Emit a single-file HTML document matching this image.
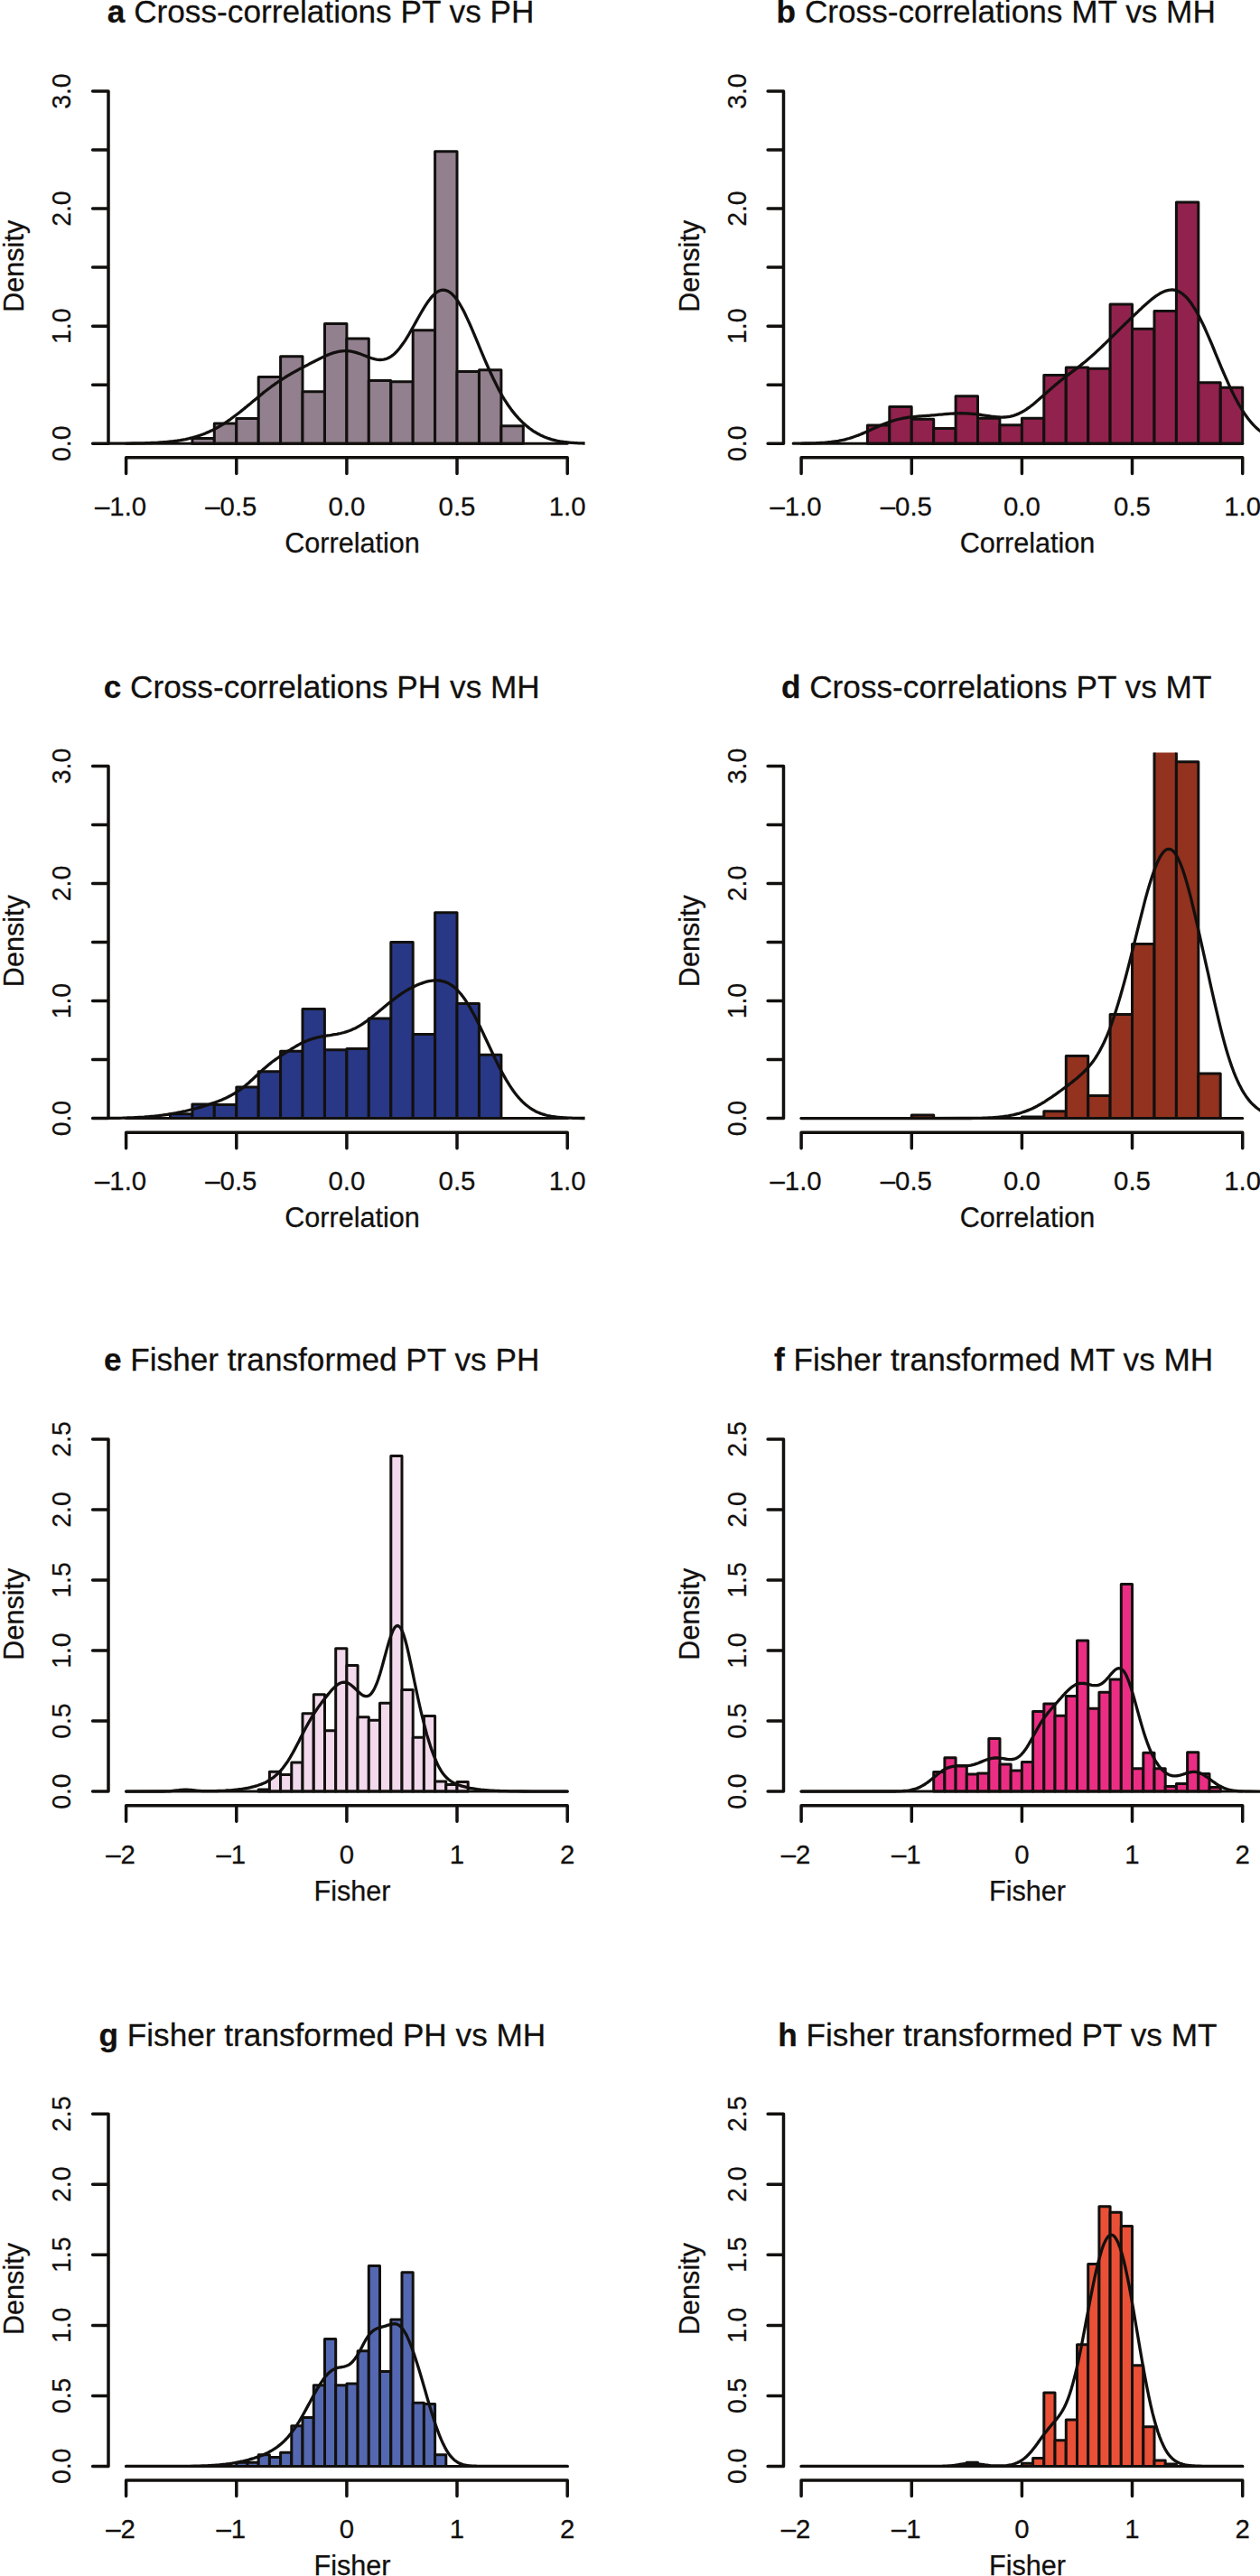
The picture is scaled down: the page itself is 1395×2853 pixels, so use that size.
<!DOCTYPE html>
<html lang="en"><head><meta charset="utf-8"><title>Cross-correlation and Fisher transformed histograms</title>
<style>html,body{margin:0;padding:0;background:#fff}body{width:1395px;height:2853px;overflow:hidden}svg{display:block}text{font-family:"Liberation Sans",Arial,Helvetica,sans-serif;fill:#12100e;stroke:#12100e;stroke-width:0.25px;stroke-linejoin:round}.ax{stroke:#12100e;stroke-width:3.5;fill:none;stroke-linecap:round;stroke-linejoin:round}.bar{stroke:#12100e;stroke-width:3.0;stroke-linejoin:round;stroke-linecap:round}.cur{stroke:#12100e;stroke-width:3.3;fill:none;stroke-linecap:round;stroke-linejoin:round}.tk{font-size:29.4px}.lb{font-size:30.6px}.tt{font-size:35.2px}.b{font-weight:bold}</style></head><body>
<svg width="1395" height="2853" viewBox="0 0 1395 2853">
<rect width="1395" height="2853" fill="#fff"/>
<defs><clipPath id="pc"><rect x="120.0" y="86.0" width="527.6" height="420.8"/></clipPath></defs>
<g transform="translate(0.0 0.0)">
<text class="tt" transform="translate(118.8 25.3) scale(1 1.02)"><tspan class="b">a</tspan> Cross-correlations PT vs PH</text>
<g clip-path="url(#pc)">
<g class="bar" fill="#92808E"><rect x="212.9" y="485.5" width="24.4" height="5.7"/><rect x="237.3" y="469.1" width="24.4" height="22.1"/><rect x="261.8" y="463.4" width="24.4" height="27.8"/><rect x="286.2" y="417.6" width="24.4" height="73.6"/><rect x="310.6" y="394.8" width="24.4" height="96.4"/><rect x="335.0" y="433.7" width="24.4" height="57.5"/><rect x="359.5" y="358.6" width="24.4" height="132.6"/><rect x="383.9" y="375.1" width="24.4" height="116.1"/><rect x="408.3" y="421.4" width="24.4" height="69.8"/><rect x="432.8" y="422.8" width="24.4" height="68.4"/><rect x="457.2" y="365.7" width="24.4" height="125.5"/><rect x="481.6" y="167.8" width="24.4" height="323.4"/><rect x="506.0" y="411.6" width="24.4" height="79.6"/><rect x="530.5" y="409.7" width="24.4" height="81.5"/><rect x="554.9" y="471.7" width="24.4" height="19.5"/><path d="M139.6 491.2 H628.2"/></g>
<path class="cur" d="M117.6 491.2L133.6 491.1L141.5 491.1L147.5 491.0L151.5 490.9L155.5 490.9L159.5 490.8L161.5 490.7L163.5 490.7L165.5 490.6L167.5 490.5L169.5 490.4L171.5 490.4L173.5 490.3L175.5 490.1L177.5 490.0L179.4 489.9L181.4 489.7L183.4 489.6L185.4 489.4L187.4 489.2L189.4 489.0L191.4 488.8L193.4 488.5L195.4 488.3L197.4 488.0L199.4 487.7L201.4 487.3L203.4 486.9L205.4 486.6L207.4 486.1L209.4 485.7L211.4 485.2L213.4 484.7L215.4 484.1L217.3 483.5L219.3 482.9L221.3 482.2L223.3 481.5L225.3 480.8L227.3 480.0L229.3 479.1L231.3 478.3L233.3 477.3L235.3 476.4L237.3 475.4L239.3 474.3L241.3 473.2L243.3 472.0L245.3 470.9L247.3 469.6L249.3 468.3L251.3 467.0L253.2 465.7L255.2 464.3L257.2 462.8L259.2 461.3L261.2 459.8L263.2 458.3L265.2 456.7L267.2 455.1L269.2 453.5L271.2 451.9L273.2 450.3L275.2 448.6L277.2 447.0L279.2 445.3L281.2 443.6L283.2 442.0L285.2 440.3L287.2 438.7L289.2 437.0L291.1 435.4L293.1 433.8L295.1 432.3L297.1 430.7L299.1 429.2L301.1 427.7L303.1 426.3L305.1 424.9L307.1 423.5L309.1 422.1L311.1 420.8L313.1 419.5L315.1 418.3L317.1 417.0L319.1 415.8L321.1 414.7L323.1 413.5L325.1 412.4L327.1 411.3L329.0 410.2L331.0 409.1L333.0 408.1L335.0 407.0L337.0 406.0L339.0 404.9L341.0 403.9L343.0 402.8L345.0 401.8L347.0 400.8L349.0 399.7L351.0 398.7L353.0 397.7L355.0 396.7L357.0 395.8L359.0 394.8L361.0 394.0L363.0 393.1L365.0 392.3L366.9 391.6L368.9 390.9L370.9 390.3L372.9 389.8L374.9 389.4L376.9 389.0L378.9 388.8L380.9 388.7L382.9 388.6L384.9 388.7L386.9 388.9L388.9 389.2L390.9 389.6L392.9 390.1L394.9 390.7L396.9 391.3L398.9 392.0L400.9 392.8L402.8 393.5L404.8 394.3L406.8 395.1L408.8 395.9L410.8 396.5L412.8 397.2L414.8 397.7L416.8 398.1L418.8 398.4L420.8 398.5L422.8 398.4L424.8 398.1L426.8 397.7L428.8 397.0L430.8 396.0L432.8 394.8L434.8 393.4L436.8 391.7L438.8 389.8L440.7 387.7L442.7 385.3L444.7 382.6L446.7 379.8L448.7 376.8L450.7 373.6L452.7 370.3L454.7 366.8L456.7 363.3L458.7 359.7L460.7 356.1L462.7 352.5L464.7 349.0L466.7 345.5L468.7 342.1L470.7 338.9L472.7 335.8L474.7 333.0L476.7 330.4L478.6 328.1L480.6 326.1L482.6 324.4L484.6 323.0L486.6 322.0L488.6 321.4L490.6 321.2L492.6 321.3L494.6 321.9L496.6 322.8L498.6 324.1L500.6 325.8L502.6 327.8L504.6 330.3L506.6 333.0L508.6 336.1L510.6 339.5L512.6 343.1L514.6 347.0L516.5 351.1L518.5 355.4L520.5 359.8L522.5 364.4L524.5 369.1L526.5 373.8L528.5 378.6L530.5 383.5L532.5 388.3L534.5 393.1L536.5 397.8L538.5 402.5L540.5 407.0L542.5 411.5L544.5 415.8L546.5 420.1L548.5 424.1L550.5 428.1L552.4 431.9L554.4 435.5L556.4 439.0L558.4 442.3L560.4 445.4L562.4 448.5L564.4 451.3L566.4 454.1L568.4 456.6L570.4 459.1L572.4 461.4L574.4 463.6L576.4 465.7L578.4 467.7L580.4 469.5L582.4 471.3L584.4 472.9L586.4 474.5L588.4 475.9L590.3 477.3L592.3 478.5L594.3 479.7L596.3 480.8L598.3 481.9L600.3 482.8L602.3 483.7L604.3 484.5L606.3 485.3L608.3 485.9L610.3 486.6L612.3 487.1L614.3 487.6L616.3 488.1L618.3 488.5L620.3 488.9L622.3 489.2L624.3 489.5L626.3 489.7L628.2 489.9L630.2 490.1L632.2 490.3L634.2 490.4L636.2 490.6L638.2 490.7L640.2 490.8L642.2 490.8L644.2 490.9L646.2 491.0L650.2 491.0"/>
</g>
<path class="ax" d="M120.0 101.1 V491.2M120.0 491.2 H102.6M120.0 426.2 H102.6M120.0 361.2 H102.6M120.0 296.1 H102.6M120.0 231.1 H102.6M120.0 166.1 H102.6M120.0 101.1 H102.6"/>
<text class="tk" text-anchor="middle" transform="translate(78.0 491.2) rotate(-90) scale(0.965 1.025)">0.0</text>
<text class="tk" text-anchor="middle" transform="translate(78.0 361.2) rotate(-90) scale(0.965 1.025)">1.0</text>
<text class="tk" text-anchor="middle" transform="translate(78.0 231.1) rotate(-90) scale(0.965 1.025)">2.0</text>
<text class="tk" text-anchor="middle" transform="translate(78.0 101.1) rotate(-90) scale(0.965 1.025)">3.0</text>
<path class="ax" d="M139.6 506.8 H628.2M139.6 506.8 V524.4M261.8 506.8 V524.4M383.9 506.8 V524.4M506.0 506.8 V524.4M628.2 506.8 V524.4"/>
<text class="tk" text-anchor="middle" transform="translate(133.6 570.7) scale(1 1.025)">–1.0</text>
<text class="tk" text-anchor="middle" transform="translate(255.8 570.7) scale(1 1.025)">–0.5</text>
<text class="tk" text-anchor="middle" transform="translate(383.9 570.7) scale(1 1.025)">0.0</text>
<text class="tk" text-anchor="middle" transform="translate(506.0 570.7) scale(1 1.025)">0.5</text>
<text class="tk" text-anchor="middle" transform="translate(628.2 570.7) scale(1 1.025)">1.0</text>
<text class="lb" text-anchor="middle" x="390.0" y="612.0">Correlation</text>
<text class="lb" text-anchor="middle" transform="translate(26.4 294.8) rotate(-90)">Density</text>
</g>
<g transform="translate(747.5 0.0)">
<text class="tt" transform="translate(112.1 25.3) scale(1 1.02)"><tspan class="b">b</tspan> Cross-correlations MT vs MH</text>
<g clip-path="url(#pc)">
<g class="bar" fill="#91214D"><rect x="212.9" y="470.9" width="24.4" height="20.3"/><rect x="237.3" y="450.5" width="24.4" height="40.7"/><rect x="261.8" y="464.3" width="24.4" height="26.9"/><rect x="286.2" y="474.4" width="24.4" height="16.8"/><rect x="310.6" y="438.8" width="24.4" height="52.4"/><rect x="335.0" y="463.2" width="24.4" height="28.0"/><rect x="359.5" y="470.8" width="24.4" height="20.4"/><rect x="383.9" y="463.2" width="24.4" height="28.0"/><rect x="408.3" y="415.4" width="24.4" height="75.8"/><rect x="432.8" y="406.9" width="24.4" height="84.3"/><rect x="457.2" y="408.2" width="24.4" height="83.0"/><rect x="481.6" y="337.1" width="24.4" height="154.1"/><rect x="506.0" y="364.2" width="24.4" height="127.0"/><rect x="530.5" y="344.5" width="24.4" height="146.7"/><rect x="554.9" y="223.9" width="24.4" height="267.3"/><rect x="579.3" y="423.7" width="24.4" height="67.5"/><rect x="603.8" y="429.2" width="24.4" height="62.0"/><path d="M139.6 491.2 H628.2"/></g>
<path class="cur" d="M130.8 491.2L138.8 491.1L144.8 491.0L148.8 491.0L150.8 490.9L152.8 490.8L154.8 490.8L156.8 490.7L158.8 490.6L160.8 490.5L162.8 490.4L164.8 490.3L166.8 490.1L168.8 489.9L170.8 489.7L172.8 489.5L174.8 489.2L176.8 489.0L178.7 488.6L180.7 488.3L182.7 487.9L184.7 487.5L186.7 487.1L188.7 486.6L190.7 486.0L192.7 485.5L194.7 484.9L196.7 484.2L198.7 483.5L200.7 482.8L202.7 482.1L204.7 481.3L206.7 480.4L208.7 479.6L210.7 478.7L212.7 477.8L214.7 476.9L216.7 476.0L218.7 475.1L220.7 474.2L222.7 473.3L224.7 472.4L226.7 471.5L228.7 470.6L230.7 469.8L232.7 469.0L234.7 468.2L236.7 467.5L238.7 466.8L240.7 466.2L242.7 465.5L244.7 465.0L246.7 464.5L248.7 464.0L250.7 463.6L252.7 463.2L254.7 462.8L256.7 462.5L258.7 462.2L260.7 462.0L262.6 461.8L264.6 461.6L266.6 461.4L268.6 461.2L270.6 461.0L272.6 460.9L274.6 460.7L276.6 460.6L278.6 460.4L280.6 460.3L282.6 460.1L284.6 459.9L286.6 459.8L288.6 459.6L290.6 459.4L292.6 459.2L294.6 459.1L296.6 458.9L298.6 458.7L300.6 458.5L302.6 458.4L304.6 458.2L306.6 458.1L308.6 458.0L310.6 457.9L312.6 457.8L316.6 457.7L320.6 457.8L322.6 457.9L324.6 458.0L326.6 458.1L328.6 458.3L330.6 458.5L332.6 458.7L334.6 458.9L336.6 459.2L338.6 459.5L340.6 459.8L342.6 460.1L344.6 460.4L346.5 460.7L348.5 461.0L350.5 461.3L352.5 461.5L354.5 461.7L356.5 461.9L358.5 462.0L360.5 462.1L362.5 462.1L364.5 462.0L366.5 461.9L368.5 461.6L370.5 461.3L372.5 460.8L374.5 460.3L376.5 459.7L378.5 458.9L380.5 458.1L382.5 457.1L384.5 456.0L386.5 454.9L388.5 453.6L390.5 452.2L392.5 450.8L394.5 449.3L396.5 447.7L398.5 446.0L400.5 444.3L402.5 442.6L404.5 440.8L406.5 439.1L408.5 437.3L410.5 435.5L412.5 433.7L414.5 431.9L416.5 430.2L418.5 428.4L420.5 426.7L422.5 425.1L424.5 423.4L426.5 421.8L428.5 420.2L430.4 418.7L432.4 417.1L434.4 415.6L436.4 414.1L438.4 412.6L440.4 411.1L442.4 409.6L444.4 408.1L446.4 406.6L448.4 405.0L450.4 403.4L452.4 401.8L454.4 400.2L456.4 398.5L458.4 396.8L460.4 395.1L462.4 393.3L464.4 391.5L466.4 389.6L468.4 387.8L470.4 385.9L472.4 384.0L474.4 382.0L476.4 380.1L478.4 378.1L480.4 376.2L482.4 374.2L484.4 372.2L486.4 370.3L488.4 368.3L490.4 366.3L492.4 364.4L494.4 362.4L496.4 360.5L498.4 358.5L500.4 356.6L502.4 354.7L504.4 352.7L506.4 350.8L508.4 348.9L510.4 347.0L512.4 345.1L514.3 343.2L516.3 341.4L518.3 339.5L520.3 337.7L522.3 335.9L524.3 334.2L526.3 332.5L528.3 330.9L530.3 329.4L532.3 327.9L534.3 326.6L536.3 325.3L538.3 324.2L540.3 323.3L542.3 322.4L544.3 321.8L546.3 321.3L548.3 321.1L550.3 321.0L552.3 321.2L554.3 321.7L556.3 322.3L558.3 323.3L560.3 324.5L562.3 325.9L564.3 327.7L566.3 329.7L568.3 331.9L570.3 334.5L572.3 337.3L574.3 340.4L576.3 343.7L578.3 347.2L580.3 350.9L582.3 354.9L584.3 359.0L586.3 363.3L588.3 367.8L590.3 372.3L592.3 377.0L594.3 381.7L596.3 386.5L598.2 391.3L600.2 396.2L602.2 401.0L604.2 405.8L606.2 410.5L608.2 415.2L610.2 419.7L612.2 424.2L614.2 428.6L616.2 432.8L618.2 436.9L620.2 440.8L622.2 444.5L624.2 448.1L626.2 451.5L628.2 454.8L630.2 457.9L632.2 460.7L634.2 463.5L636.2 466.0L638.2 468.4L640.2 470.6L642.2 472.6L644.2 474.5L646.2 476.2L648.2 477.8L650.2 479.2"/>
</g>
<path class="ax" d="M120.0 101.1 V491.2M120.0 491.2 H102.6M120.0 426.2 H102.6M120.0 361.2 H102.6M120.0 296.1 H102.6M120.0 231.1 H102.6M120.0 166.1 H102.6M120.0 101.1 H102.6"/>
<text class="tk" text-anchor="middle" transform="translate(78.0 491.2) rotate(-90) scale(0.965 1.025)">0.0</text>
<text class="tk" text-anchor="middle" transform="translate(78.0 361.2) rotate(-90) scale(0.965 1.025)">1.0</text>
<text class="tk" text-anchor="middle" transform="translate(78.0 231.1) rotate(-90) scale(0.965 1.025)">2.0</text>
<text class="tk" text-anchor="middle" transform="translate(78.0 101.1) rotate(-90) scale(0.965 1.025)">3.0</text>
<path class="ax" d="M139.6 506.8 H628.2M139.6 506.8 V524.4M261.8 506.8 V524.4M383.9 506.8 V524.4M506.0 506.8 V524.4M628.2 506.8 V524.4"/>
<text class="tk" text-anchor="middle" transform="translate(133.6 570.7) scale(1 1.025)">–1.0</text>
<text class="tk" text-anchor="middle" transform="translate(255.8 570.7) scale(1 1.025)">–0.5</text>
<text class="tk" text-anchor="middle" transform="translate(383.9 570.7) scale(1 1.025)">0.0</text>
<text class="tk" text-anchor="middle" transform="translate(506.0 570.7) scale(1 1.025)">0.5</text>
<text class="tk" text-anchor="middle" transform="translate(628.2 570.7) scale(1 1.025)">1.0</text>
<text class="lb" text-anchor="middle" x="390.0" y="612.0">Correlation</text>
<text class="lb" text-anchor="middle" transform="translate(26.4 294.8) rotate(-90)">Density</text>
</g>
<g transform="translate(0.0 747.4)">
<text class="tt" transform="translate(114.7 25.3) scale(1 1.02)"><tspan class="b">c</tspan> Cross-correlations PH vs MH</text>
<g clip-path="url(#pc)">
<g class="bar" fill="#283886"><rect x="188.5" y="486.4" width="24.4" height="4.8"/><rect x="212.9" y="475.7" width="24.4" height="15.5"/><rect x="237.3" y="476.1" width="24.4" height="15.1"/><rect x="261.8" y="456.6" width="24.4" height="34.6"/><rect x="286.2" y="439.4" width="24.4" height="51.8"/><rect x="310.6" y="416.8" width="24.4" height="74.4"/><rect x="335.0" y="370.0" width="24.4" height="121.2"/><rect x="359.5" y="415.4" width="24.4" height="75.8"/><rect x="383.9" y="414.2" width="24.4" height="77.0"/><rect x="408.3" y="380.5" width="24.4" height="110.7"/><rect x="432.8" y="296.1" width="24.4" height="195.1"/><rect x="457.2" y="398.2" width="24.4" height="93.0"/><rect x="481.6" y="263.4" width="24.4" height="227.8"/><rect x="506.0" y="364.0" width="24.4" height="127.2"/><rect x="530.5" y="420.9" width="24.4" height="70.3"/><path d="M139.6 491.2 H628.2"/></g>
<path class="cur" d="M117.6 491.1L123.6 491.0L127.6 491.0L131.6 490.9L135.6 490.8L137.6 490.7L139.6 490.7L141.5 490.6L143.5 490.6L145.5 490.5L147.5 490.4L149.5 490.3L151.5 490.2L153.5 490.1L155.5 490.0L157.5 489.9L159.5 489.8L161.5 489.6L163.5 489.5L165.5 489.3L167.5 489.1L169.5 488.9L171.5 488.7L173.5 488.5L175.5 488.3L177.5 488.0L179.4 487.8L181.4 487.5L183.4 487.2L185.4 486.9L187.4 486.6L189.4 486.3L191.4 485.9L193.4 485.6L195.4 485.2L197.4 484.8L199.4 484.4L201.4 484.0L203.4 483.5L205.4 483.1L207.4 482.6L209.4 482.1L211.4 481.6L213.4 481.1L215.4 480.6L217.3 480.1L219.3 479.5L221.3 479.0L223.3 478.4L225.3 477.8L227.3 477.2L229.3 476.5L231.3 475.9L233.3 475.2L235.3 474.5L237.3 473.8L239.3 473.1L241.3 472.4L243.3 471.6L245.3 470.8L247.3 469.9L249.3 469.0L251.3 468.1L253.2 467.1L255.2 466.1L257.2 465.0L259.2 463.9L261.2 462.6L263.2 461.3L265.2 460.0L267.2 458.5L269.2 457.0L271.2 455.4L273.2 453.7L275.2 452.0L277.2 450.2L279.2 448.4L281.2 446.5L283.2 444.6L285.2 442.8L287.2 440.9L289.2 439.0L291.1 437.2L293.1 435.5L295.1 433.8L297.1 432.1L299.1 430.5L301.1 428.9L303.1 427.4L305.1 426.0L307.1 424.6L309.1 423.2L311.1 421.8L313.1 420.5L315.1 419.2L317.1 417.9L319.1 416.6L321.1 415.4L323.1 414.1L325.1 412.9L327.1 411.7L329.0 410.6L331.0 409.5L333.0 408.4L335.0 407.4L337.0 406.5L339.0 405.6L341.0 404.8L343.0 404.0L345.0 403.4L347.0 402.7L349.0 402.2L351.0 401.7L353.0 401.2L355.0 400.8L357.0 400.4L359.0 400.1L361.0 399.8L363.0 399.4L365.0 399.2L366.9 398.9L368.9 398.5L370.9 398.2L372.9 397.9L374.9 397.5L376.9 397.1L378.9 396.6L380.9 396.1L382.9 395.5L384.9 394.8L386.9 394.1L388.9 393.3L390.9 392.4L392.9 391.5L394.9 390.5L396.9 389.4L398.9 388.2L400.9 387.0L402.8 385.7L404.8 384.3L406.8 382.8L408.8 381.4L410.8 379.8L412.8 378.2L414.8 376.6L416.8 375.0L418.8 373.3L420.8 371.7L422.8 370.0L424.8 368.3L426.8 366.7L428.8 365.0L430.8 363.4L432.8 361.8L434.8 360.2L436.8 358.7L438.8 357.2L440.7 355.8L442.7 354.4L444.7 353.0L446.7 351.7L448.7 350.5L450.7 349.3L452.7 348.1L454.7 347.0L456.7 346.0L458.7 345.0L460.7 344.1L462.7 343.2L464.7 342.4L466.7 341.7L468.7 341.0L470.7 340.3L472.7 339.8L474.7 339.3L476.7 338.9L478.6 338.7L480.6 338.5L482.6 338.4L484.6 338.4L486.6 338.6L488.6 338.9L490.6 339.4L492.6 340.0L494.6 340.8L496.6 341.7L498.6 342.9L500.6 344.2L502.6 345.7L504.6 347.5L506.6 349.4L508.6 351.6L510.6 353.9L512.6 356.5L514.6 359.3L516.5 362.2L518.5 365.4L520.5 368.7L522.5 372.3L524.5 375.9L526.5 379.7L528.5 383.7L530.5 387.7L532.5 391.8L534.5 396.0L536.5 400.3L538.5 404.6L540.5 408.9L542.5 413.1L544.5 417.4L546.5 421.6L548.5 425.8L550.5 429.8L552.4 433.8L554.4 437.7L556.4 441.4L558.4 445.0L560.4 448.5L562.4 451.8L564.4 455.0L566.4 458.0L568.4 460.9L570.4 463.6L572.4 466.1L574.4 468.4L576.4 470.6L578.4 472.7L580.4 474.6L582.4 476.3L584.4 477.9L586.4 479.4L588.4 480.7L590.3 481.9L592.3 483.0L594.3 484.0L596.3 484.9L598.3 485.7L600.3 486.4L602.3 487.0L604.3 487.6L606.3 488.1L608.3 488.5L610.3 488.9L612.3 489.2L614.3 489.5L616.3 489.8L618.3 490.0L620.3 490.2L622.3 490.3L624.3 490.5L626.3 490.6L628.2 490.7L630.2 490.8L632.2 490.8L634.2 490.9L636.2 491.0L640.2 491.0L644.2 491.1L650.2 491.1"/>
</g>
<path class="ax" d="M120.0 101.1 V491.2M120.0 491.2 H102.6M120.0 426.2 H102.6M120.0 361.2 H102.6M120.0 296.1 H102.6M120.0 231.1 H102.6M120.0 166.1 H102.6M120.0 101.1 H102.6"/>
<text class="tk" text-anchor="middle" transform="translate(78.0 491.2) rotate(-90) scale(0.965 1.025)">0.0</text>
<text class="tk" text-anchor="middle" transform="translate(78.0 361.2) rotate(-90) scale(0.965 1.025)">1.0</text>
<text class="tk" text-anchor="middle" transform="translate(78.0 231.1) rotate(-90) scale(0.965 1.025)">2.0</text>
<text class="tk" text-anchor="middle" transform="translate(78.0 101.1) rotate(-90) scale(0.965 1.025)">3.0</text>
<path class="ax" d="M139.6 506.8 H628.2M139.6 506.8 V524.4M261.8 506.8 V524.4M383.9 506.8 V524.4M506.0 506.8 V524.4M628.2 506.8 V524.4"/>
<text class="tk" text-anchor="middle" transform="translate(133.6 570.7) scale(1 1.025)">–1.0</text>
<text class="tk" text-anchor="middle" transform="translate(255.8 570.7) scale(1 1.025)">–0.5</text>
<text class="tk" text-anchor="middle" transform="translate(383.9 570.7) scale(1 1.025)">0.0</text>
<text class="tk" text-anchor="middle" transform="translate(506.0 570.7) scale(1 1.025)">0.5</text>
<text class="tk" text-anchor="middle" transform="translate(628.2 570.7) scale(1 1.025)">1.0</text>
<text class="lb" text-anchor="middle" x="390.0" y="612.0">Correlation</text>
<text class="lb" text-anchor="middle" transform="translate(26.4 294.8) rotate(-90)">Density</text>
</g>
<g transform="translate(747.5 747.4)">
<text class="tt" transform="translate(117.4 25.3) scale(1 1.02)"><tspan class="b">d</tspan> Cross-correlations PT vs MT</text>
<g clip-path="url(#pc)">
<g class="bar" fill="#92321F"><rect x="261.8" y="487.7" width="24.4" height="3.5"/><rect x="383.9" y="489.5" width="24.4" height="1.7"/><rect x="408.3" y="483.4" width="24.4" height="7.8"/><rect x="432.8" y="422.0" width="24.4" height="69.2"/><rect x="457.2" y="466.1" width="24.4" height="25.1"/><rect x="481.6" y="376.0" width="24.4" height="115.2"/><rect x="506.0" y="298.0" width="24.4" height="193.2"/><rect x="530.5" y="49.1" width="24.4" height="442.1"/><rect x="554.9" y="96.4" width="24.4" height="394.8"/><rect x="579.3" y="441.5" width="24.4" height="49.7"/><path d="M139.6 491.2 H628.2"/></g>
<path class="cur" d="M139.6 491.2L319.1 491.1L327.1 491.1L331.1 491.0L335.1 491.0L337.1 490.9L339.0 490.9L341.0 490.8L343.0 490.7L345.0 490.7L347.0 490.6L349.0 490.5L351.0 490.4L353.0 490.2L355.0 490.1L357.0 489.9L359.0 489.7L361.0 489.5L363.0 489.3L365.0 489.0L367.0 488.7L369.0 488.4L371.0 488.0L373.0 487.6L374.9 487.2L376.9 486.7L378.9 486.2L380.9 485.7L382.9 485.1L384.9 484.4L386.9 483.7L388.9 483.0L390.9 482.2L392.9 481.4L394.9 480.5L396.9 479.5L398.9 478.5L400.9 477.5L402.9 476.4L404.9 475.3L406.9 474.1L408.9 472.9L410.8 471.6L412.8 470.3L414.8 469.0L416.8 467.7L418.8 466.3L420.8 464.9L422.8 463.5L424.8 462.0L426.8 460.6L428.8 459.1L430.8 457.6L432.8 456.2L434.8 454.7L436.8 453.1L438.8 451.6L440.8 450.0L442.8 448.4L444.8 446.8L446.7 445.1L448.7 443.4L450.7 441.5L452.7 439.6L454.7 437.6L456.7 435.4L458.7 433.1L460.7 430.7L462.7 428.0L464.7 425.2L466.7 422.1L468.7 418.8L470.7 415.2L472.7 411.4L474.7 407.3L476.7 402.9L478.7 398.2L480.7 393.2L482.7 387.8L484.6 382.2L486.6 376.3L488.6 370.1L490.6 363.6L492.6 356.9L494.6 349.9L496.6 342.7L498.6 335.3L500.6 327.7L502.6 320.0L504.6 312.1L506.6 304.1L508.6 296.1L510.6 288.0L512.6 280.0L514.6 272.0L516.6 264.1L518.6 256.3L520.5 248.8L522.5 241.5L524.5 234.6L526.5 228.0L528.5 221.8L530.5 216.1L532.5 210.9L534.5 206.3L536.5 202.3L538.5 199.0L540.5 196.4L542.5 194.5L544.5 193.3L546.5 192.9L548.5 193.3L550.5 194.5L552.5 196.4L554.5 199.1L556.4 202.6L558.4 206.7L560.4 211.6L562.4 217.1L564.4 223.3L566.4 230.0L568.4 237.2L570.4 244.8L572.4 252.9L574.4 261.2L576.4 269.8L578.4 278.6L580.4 287.5L582.4 296.4L584.4 305.4L586.4 314.4L588.4 323.4L590.4 332.3L592.3 341.2L594.3 350.1L596.3 358.9L598.3 367.7L600.3 376.3L602.3 384.7L604.3 392.9L606.3 400.7L608.3 408.2L610.3 415.3L612.3 422.0L614.3 428.2L616.3 434.0L618.3 439.4L620.3 444.4L622.3 449.0L624.3 453.3L626.3 457.2L628.2 460.8L630.2 464.0L632.2 467.0L634.2 469.7L636.2 472.2L638.2 474.4L640.2 476.4L642.2 478.2L644.2 479.8L646.2 481.3L648.2 482.6L650.2 483.7"/>
</g>
<path class="ax" d="M120.0 101.1 V491.2M120.0 491.2 H102.6M120.0 426.2 H102.6M120.0 361.2 H102.6M120.0 296.1 H102.6M120.0 231.1 H102.6M120.0 166.1 H102.6M120.0 101.1 H102.6"/>
<text class="tk" text-anchor="middle" transform="translate(78.0 491.2) rotate(-90) scale(0.965 1.025)">0.0</text>
<text class="tk" text-anchor="middle" transform="translate(78.0 361.2) rotate(-90) scale(0.965 1.025)">1.0</text>
<text class="tk" text-anchor="middle" transform="translate(78.0 231.1) rotate(-90) scale(0.965 1.025)">2.0</text>
<text class="tk" text-anchor="middle" transform="translate(78.0 101.1) rotate(-90) scale(0.965 1.025)">3.0</text>
<path class="ax" d="M139.6 506.8 H628.2M139.6 506.8 V524.4M261.8 506.8 V524.4M383.9 506.8 V524.4M506.0 506.8 V524.4M628.2 506.8 V524.4"/>
<text class="tk" text-anchor="middle" transform="translate(133.6 570.7) scale(1 1.025)">–1.0</text>
<text class="tk" text-anchor="middle" transform="translate(255.8 570.7) scale(1 1.025)">–0.5</text>
<text class="tk" text-anchor="middle" transform="translate(383.9 570.7) scale(1 1.025)">0.0</text>
<text class="tk" text-anchor="middle" transform="translate(506.0 570.7) scale(1 1.025)">0.5</text>
<text class="tk" text-anchor="middle" transform="translate(628.2 570.7) scale(1 1.025)">1.0</text>
<text class="lb" text-anchor="middle" x="390.0" y="612.0">Correlation</text>
<text class="lb" text-anchor="middle" transform="translate(26.4 294.8) rotate(-90)">Density</text>
</g>
<g transform="translate(0.0 1492.9)">
<text class="tt" transform="translate(114.9 25.3) scale(1 1.02)"><tspan class="b">e</tspan> Fisher transformed PT vs PH</text>
<g clip-path="url(#pc)">
<g class="bar" fill="#F2D9EC"><rect x="286.2" y="489.0" width="12.2" height="2.2"/><rect x="298.4" y="469.4" width="12.2" height="21.8"/><rect x="310.6" y="472.5" width="12.2" height="18.7"/><rect x="322.8" y="459.2" width="12.2" height="32.0"/><rect x="335.0" y="404.8" width="12.2" height="86.4"/><rect x="347.3" y="383.8" width="12.2" height="107.4"/><rect x="359.5" y="423.8" width="12.2" height="67.4"/><rect x="371.7" y="332.8" width="12.2" height="158.4"/><rect x="383.9" y="351.7" width="12.2" height="139.5"/><rect x="396.1" y="408.8" width="12.2" height="82.4"/><rect x="408.3" y="412.4" width="12.2" height="78.8"/><rect x="420.5" y="393.4" width="12.2" height="97.8"/><rect x="432.8" y="119.5" width="12.2" height="371.7"/><rect x="445.0" y="378.5" width="12.2" height="112.7"/><rect x="457.2" y="431.3" width="12.2" height="59.9"/><rect x="469.4" y="407.6" width="12.2" height="83.6"/><rect x="481.6" y="480.0" width="12.2" height="11.2"/><rect x="493.8" y="483.6" width="12.2" height="7.6"/><rect x="506.0" y="480.6" width="12.2" height="10.6"/><path d="M139.6 491.2 H628.2"/></g>
<path class="cur" d="M139.6 491.2L179.5 491.1L181.5 491.1L183.5 491.0L185.5 491.0L187.5 490.9L189.5 490.7L191.5 490.5L193.4 490.3L195.4 490.1L197.4 489.9L199.4 489.6L201.4 489.5L203.4 489.3L205.4 489.3L207.4 489.3L209.4 489.4L211.4 489.6L213.4 489.8L215.4 490.0L217.4 490.2L219.4 490.4L221.4 490.5L223.4 490.7L225.4 490.8L227.3 490.8L237.3 490.7L239.3 490.7L241.3 490.6L243.3 490.5L245.3 490.5L247.3 490.4L249.3 490.3L251.3 490.1L253.3 490.0L255.3 489.9L257.3 489.7L259.3 489.5L261.3 489.3L263.2 489.1L265.2 488.8L267.2 488.6L269.2 488.3L271.2 487.9L273.2 487.6L275.2 487.2L277.2 486.8L279.2 486.3L281.2 485.8L283.2 485.2L285.2 484.6L287.2 483.9L289.2 483.2L291.2 482.4L293.2 481.5L295.2 480.5L297.1 479.4L299.1 478.2L301.1 476.8L303.1 475.4L305.1 473.7L307.1 471.9L309.1 469.9L311.1 467.7L313.1 465.3L315.1 462.7L317.1 459.9L319.1 456.9L321.1 453.7L323.1 450.3L325.1 446.7L327.1 443.0L329.1 439.2L331.1 435.3L333.0 431.4L335.0 427.5L337.0 423.7L339.0 419.9L341.0 416.2L343.0 412.7L345.0 409.2L347.0 406.0L349.0 402.9L351.0 399.9L353.0 397.0L355.0 394.3L357.0 391.6L359.0 389.0L361.0 386.5L363.0 384.0L365.0 381.6L366.9 379.3L368.9 377.2L370.9 375.2L372.9 373.5L374.9 372.1L376.9 371.1L378.9 370.4L380.9 370.2L382.9 370.4L384.9 371.0L386.9 372.1L388.9 373.5L390.9 375.2L392.9 377.0L394.9 379.0L396.9 380.9L398.9 382.7L400.9 384.2L402.8 385.3L404.8 385.8L406.8 385.7L408.8 384.8L410.8 383.1L412.8 380.4L414.8 376.8L416.8 372.3L418.8 366.8L420.8 360.6L422.8 353.7L424.8 346.4L426.8 339.0L428.8 331.7L430.8 324.8L432.8 318.7L434.8 313.7L436.7 310.0L438.7 307.9L440.7 307.6L442.7 309.1L444.7 312.3L446.7 317.2L448.7 323.6L450.7 331.3L452.7 339.9L454.7 349.2L456.7 358.8L458.7 368.6L460.7 378.2L462.7 387.6L464.7 396.6L466.7 405.2L468.7 413.3L470.7 421.0L472.6 428.2L474.6 434.9L476.6 441.2L478.6 447.0L480.6 452.3L482.6 457.1L484.6 461.5L486.6 465.3L488.6 468.7L490.6 471.6L492.6 474.0L494.6 476.1L496.6 477.9L498.6 479.4L500.6 480.7L502.6 481.8L504.6 482.7L506.5 483.5L508.5 484.3L510.5 484.9L512.5 485.5L514.5 486.0L516.5 486.5L518.5 487.0L520.5 487.4L522.5 487.7L524.5 488.1L526.5 488.4L528.5 488.7L530.5 488.9L532.5 489.2L534.5 489.4L536.5 489.6L538.5 489.7L540.5 489.9L542.4 490.1L544.4 490.2L546.4 490.3L548.4 490.4L550.4 490.5L552.4 490.6L554.4 490.7L556.4 490.7L558.4 490.8L560.4 490.8L564.4 490.9L568.4 491.0L572.4 491.0L578.3 491.1L588.3 491.2L628.2 491.2"/>
</g>
<path class="ax" d="M120.0 101.1 V491.2M120.0 491.2 H102.6M120.0 413.2 H102.6M120.0 335.2 H102.6M120.0 257.1 H102.6M120.0 179.1 H102.6M120.0 101.1 H102.6"/>
<text class="tk" text-anchor="middle" transform="translate(78.0 491.2) rotate(-90) scale(0.965 1.025)">0.0</text>
<text class="tk" text-anchor="middle" transform="translate(78.0 413.2) rotate(-90) scale(0.965 1.025)">0.5</text>
<text class="tk" text-anchor="middle" transform="translate(78.0 335.2) rotate(-90) scale(0.965 1.025)">1.0</text>
<text class="tk" text-anchor="middle" transform="translate(78.0 257.1) rotate(-90) scale(0.965 1.025)">1.5</text>
<text class="tk" text-anchor="middle" transform="translate(78.0 179.1) rotate(-90) scale(0.965 1.025)">2.0</text>
<text class="tk" text-anchor="middle" transform="translate(78.0 101.1) rotate(-90) scale(0.965 1.025)">2.5</text>
<path class="ax" d="M139.6 506.8 H628.2M139.6 506.8 V524.4M261.8 506.8 V524.4M383.9 506.8 V524.4M506.0 506.8 V524.4M628.2 506.8 V524.4"/>
<text class="tk" text-anchor="middle" transform="translate(133.6 570.7) scale(1 1.025)">–2</text>
<text class="tk" text-anchor="middle" transform="translate(255.8 570.7) scale(1 1.025)">–1</text>
<text class="tk" text-anchor="middle" transform="translate(383.9 570.7) scale(1 1.025)">0</text>
<text class="tk" text-anchor="middle" transform="translate(506.0 570.7) scale(1 1.025)">1</text>
<text class="tk" text-anchor="middle" transform="translate(628.2 570.7) scale(1 1.025)">2</text>
<text class="lb" text-anchor="middle" x="390.0" y="612.0">Fisher</text>
<text class="lb" text-anchor="middle" transform="translate(26.4 294.8) rotate(-90)">Density</text>
</g>
<g transform="translate(747.5 1492.9)">
<text class="tt" transform="translate(109.5 25.3) scale(1 1.02)"><tspan class="b">f</tspan> Fisher transformed MT vs MH</text>
<g clip-path="url(#pc)">
<g class="bar" fill="#EC2D84"><rect x="286.2" y="469.7" width="12.2" height="21.5"/><rect x="298.4" y="453.9" width="12.2" height="37.3"/><rect x="310.6" y="462.6" width="12.2" height="28.6"/><rect x="322.8" y="472.2" width="12.2" height="19.0"/><rect x="335.0" y="471.2" width="12.2" height="20.0"/><rect x="347.3" y="432.7" width="12.2" height="58.5"/><rect x="359.5" y="461.1" width="12.2" height="30.1"/><rect x="371.7" y="468.1" width="12.2" height="23.1"/><rect x="383.9" y="458.6" width="12.2" height="32.6"/><rect x="396.1" y="402.6" width="12.2" height="88.6"/><rect x="408.3" y="394.0" width="12.2" height="97.2"/><rect x="420.5" y="407.3" width="12.2" height="83.9"/><rect x="432.8" y="385.7" width="12.2" height="105.5"/><rect x="445.0" y="324.2" width="12.2" height="167.0"/><rect x="457.2" y="399.3" width="12.2" height="91.9"/><rect x="469.4" y="381.3" width="12.2" height="109.9"/><rect x="481.6" y="367.0" width="12.2" height="124.2"/><rect x="493.8" y="261.7" width="12.2" height="229.5"/><rect x="506.0" y="465.9" width="12.2" height="25.3"/><rect x="518.3" y="448.4" width="12.2" height="42.8"/><rect x="530.5" y="465.9" width="12.2" height="25.3"/><rect x="542.7" y="485.7" width="12.2" height="5.5"/><rect x="554.9" y="482.6" width="12.2" height="8.6"/><rect x="567.1" y="447.8" width="12.2" height="43.4"/><rect x="579.3" y="471.5" width="12.2" height="19.7"/><rect x="591.6" y="486.5" width="12.2" height="4.7"/><path d="M139.6 491.2 H628.2"/></g>
<path class="cur" d="M139.6 491.2L239.5 491.1L243.5 491.1L245.5 491.0L247.5 491.0L249.5 490.9L251.5 490.8L253.5 490.6L255.5 490.4L257.5 490.2L259.5 489.9L261.4 489.5L263.4 489.0L265.4 488.5L267.4 487.8L269.4 487.0L271.4 486.1L273.4 485.0L275.4 483.9L277.4 482.6L279.4 481.2L281.4 479.7L283.4 478.1L285.4 476.5L287.4 474.8L289.4 473.2L291.4 471.5L293.4 470.0L295.4 468.6L297.4 467.3L299.4 466.2L301.4 465.2L303.4 464.5L305.4 463.9L307.4 463.5L309.4 463.2L311.4 463.0L313.4 462.9L319.4 462.9L321.4 462.9L323.4 462.7L325.4 462.5L327.4 462.2L329.4 461.7L331.4 461.2L333.4 460.5L335.4 459.8L337.4 459.0L339.4 458.2L341.3 457.4L343.3 456.6L345.3 455.9L347.3 455.3L349.3 454.7L351.3 454.4L353.3 454.1L355.3 454.0L357.3 454.1L359.3 454.2L361.3 454.5L363.3 454.8L365.3 455.1L367.3 455.4L369.3 455.7L371.3 455.8L373.3 455.6L375.3 455.3L377.3 454.6L379.3 453.5L381.3 452.1L383.3 450.2L385.3 448.0L387.3 445.4L389.3 442.4L391.3 439.2L393.3 435.7L395.3 432.1L397.3 428.4L399.3 424.8L401.3 421.2L403.3 417.8L405.3 414.5L407.3 411.5L409.3 408.6L411.3 406.0L413.3 403.4L415.3 401.1L417.3 398.8L419.3 396.5L421.2 394.3L423.2 392.1L425.2 389.8L427.2 387.6L429.2 385.3L431.2 383.1L433.2 381.0L435.2 379.0L437.2 377.2L439.2 375.5L441.2 374.2L443.2 373.0L445.2 372.2L447.2 371.6L449.2 371.4L451.2 371.4L453.2 371.6L455.2 371.9L457.2 372.4L459.2 372.9L461.2 373.4L463.2 373.7L465.2 373.8L467.2 373.7L469.2 373.2L471.2 372.4L473.2 371.1L475.2 369.5L477.2 367.5L479.2 365.3L481.2 362.9L483.2 360.5L485.2 358.4L487.2 356.5L489.2 355.3L491.2 354.7L493.2 355.1L495.2 356.4L497.2 358.7L499.2 362.1L501.1 366.5L503.1 371.8L505.1 377.8L507.1 384.4L509.1 391.5L511.1 398.7L513.1 406.0L515.1 413.1L517.1 420.0L519.1 426.5L521.1 432.6L523.1 438.3L525.1 443.4L527.1 448.1L529.1 452.3L531.1 456.1L533.1 459.4L535.1 462.3L537.1 464.9L539.1 467.1L541.1 469.0L543.1 470.6L545.1 471.9L547.1 472.8L549.1 473.5L551.1 473.9L553.1 474.0L555.1 473.9L557.1 473.6L559.1 473.2L561.1 472.6L563.1 472.0L565.1 471.3L567.1 470.7L569.1 470.2L571.1 469.8L573.1 469.5L575.1 469.5L577.1 469.7L579.1 470.2L581.1 470.8L583.0 471.7L585.0 472.8L587.0 474.1L589.0 475.4L591.0 476.9L593.0 478.4L595.0 479.9L597.0 481.3L599.0 482.7L601.0 484.0L603.0 485.2L605.0 486.2L607.0 487.1L609.0 487.9L611.0 488.6L613.0 489.2L615.0 489.6L617.0 490.0L619.0 490.3L621.0 490.5L623.0 490.7L625.0 490.9L627.0 491.0L629.0 491.0L631.0 491.1L635.0 491.1L647.0 491.2L649.0 491.2"/>
</g>
<path class="ax" d="M120.0 101.1 V491.2M120.0 491.2 H102.6M120.0 413.2 H102.6M120.0 335.2 H102.6M120.0 257.1 H102.6M120.0 179.1 H102.6M120.0 101.1 H102.6"/>
<text class="tk" text-anchor="middle" transform="translate(78.0 491.2) rotate(-90) scale(0.965 1.025)">0.0</text>
<text class="tk" text-anchor="middle" transform="translate(78.0 413.2) rotate(-90) scale(0.965 1.025)">0.5</text>
<text class="tk" text-anchor="middle" transform="translate(78.0 335.2) rotate(-90) scale(0.965 1.025)">1.0</text>
<text class="tk" text-anchor="middle" transform="translate(78.0 257.1) rotate(-90) scale(0.965 1.025)">1.5</text>
<text class="tk" text-anchor="middle" transform="translate(78.0 179.1) rotate(-90) scale(0.965 1.025)">2.0</text>
<text class="tk" text-anchor="middle" transform="translate(78.0 101.1) rotate(-90) scale(0.965 1.025)">2.5</text>
<path class="ax" d="M139.6 506.8 H628.2M139.6 506.8 V524.4M261.8 506.8 V524.4M383.9 506.8 V524.4M506.0 506.8 V524.4M628.2 506.8 V524.4"/>
<text class="tk" text-anchor="middle" transform="translate(133.6 570.7) scale(1 1.025)">–2</text>
<text class="tk" text-anchor="middle" transform="translate(255.8 570.7) scale(1 1.025)">–1</text>
<text class="tk" text-anchor="middle" transform="translate(383.9 570.7) scale(1 1.025)">0</text>
<text class="tk" text-anchor="middle" transform="translate(506.0 570.7) scale(1 1.025)">1</text>
<text class="tk" text-anchor="middle" transform="translate(628.2 570.7) scale(1 1.025)">2</text>
<text class="lb" text-anchor="middle" x="390.0" y="612.0">Fisher</text>
<text class="lb" text-anchor="middle" transform="translate(26.4 294.8) rotate(-90)">Density</text>
</g>
<g transform="translate(0.0 2240.2)">
<text class="tt" transform="translate(109.5 25.3) scale(1 1.02)"><tspan class="b">g</tspan> Fisher transformed PH vs MH</text>
<g clip-path="url(#pc)">
<g class="bar" fill="#5468B1"><rect x="261.8" y="487.1" width="12.2" height="4.1"/><rect x="274.0" y="487.1" width="12.2" height="4.1"/><rect x="286.2" y="478.6" width="12.2" height="12.6"/><rect x="298.4" y="481.4" width="12.2" height="9.8"/><rect x="310.6" y="476.1" width="12.2" height="15.1"/><rect x="322.8" y="446.6" width="12.2" height="44.6"/><rect x="335.0" y="437.4" width="12.2" height="53.8"/><rect x="347.3" y="401.6" width="12.2" height="89.6"/><rect x="359.5" y="350.3" width="12.2" height="140.9"/><rect x="371.7" y="401.6" width="12.2" height="89.6"/><rect x="383.9" y="399.9" width="12.2" height="91.3"/><rect x="396.1" y="363.6" width="12.2" height="127.6"/><rect x="408.3" y="269.2" width="12.2" height="222.0"/><rect x="420.5" y="386.3" width="12.2" height="104.9"/><rect x="432.8" y="328.8" width="12.2" height="162.4"/><rect x="445.0" y="276.5" width="12.2" height="214.7"/><rect x="457.2" y="421.1" width="12.2" height="70.1"/><rect x="469.4" y="422.2" width="12.2" height="69.0"/><rect x="481.6" y="478.6" width="12.2" height="12.6"/><path d="M139.6 491.2 H628.2"/></g>
<path class="cur" d="M139.6 491.2L201.4 491.1L209.4 491.1L215.4 491.0L219.4 490.9L221.4 490.9L223.4 490.8L225.4 490.8L227.3 490.7L229.3 490.6L231.3 490.5L233.3 490.4L235.3 490.3L237.3 490.2L239.3 490.0L241.3 489.9L243.3 489.7L245.3 489.5L247.3 489.3L249.3 489.1L251.3 488.8L253.3 488.6L255.3 488.3L257.3 488.0L259.3 487.6L261.3 487.3L263.2 486.9L265.2 486.5L267.2 486.0L269.2 485.6L271.2 485.1L273.2 484.6L275.2 484.1L277.2 483.5L279.2 482.9L281.2 482.3L283.2 481.6L285.2 481.0L287.2 480.2L289.2 479.5L291.2 478.7L293.2 477.8L295.2 476.9L297.1 475.9L299.1 474.8L301.1 473.7L303.1 472.5L305.1 471.2L307.1 469.8L309.1 468.2L311.1 466.6L313.1 464.8L315.1 462.9L317.1 460.8L319.1 458.6L321.1 456.2L323.1 453.6L325.1 450.9L327.1 448.0L329.1 445.0L331.1 441.8L333.0 438.5L335.0 435.1L337.0 431.5L339.0 427.9L341.0 424.2L343.0 420.5L345.0 416.8L347.0 413.1L349.0 409.5L351.0 405.9L353.0 402.6L355.0 399.4L357.0 396.4L359.0 393.6L361.0 391.1L363.0 388.9L365.0 387.1L366.9 385.5L368.9 384.2L370.9 383.2L372.9 382.5L374.9 382.0L376.9 381.6L378.9 381.3L380.9 380.9L382.9 380.3L384.9 379.6L386.9 378.4L388.9 376.9L390.9 374.8L392.9 372.3L394.9 369.4L396.9 366.1L398.9 362.5L400.9 358.8L402.8 355.1L404.8 351.5L406.8 348.3L408.8 345.5L410.8 343.2L412.8 341.4L414.8 340.0L416.8 338.9L418.8 338.2L420.8 337.6L422.8 337.0L424.8 336.5L426.8 335.9L428.8 335.2L430.8 334.6L432.8 334.0L434.8 333.6L436.7 333.5L438.7 333.7L440.7 334.5L442.7 335.8L444.7 337.8L446.7 340.4L448.7 343.6L450.7 347.4L452.7 351.9L454.7 356.8L456.7 362.2L458.7 367.9L460.7 374.0L462.7 380.4L464.7 386.9L466.7 393.6L468.7 400.4L470.7 407.3L472.6 414.1L474.6 420.8L476.6 427.5L478.6 433.9L480.6 440.2L482.6 446.2L484.6 451.8L486.6 457.1L488.6 461.9L490.6 466.4L492.6 470.4L494.6 473.9L496.6 477.1L498.6 479.7L500.6 482.0L502.6 484.0L504.6 485.5L506.5 486.8L508.5 487.9L510.5 488.7L512.5 489.4L514.5 489.8L516.5 490.2L518.5 490.5L520.5 490.7L522.5 490.9L524.5 491.0L526.5 491.0L528.5 491.1L532.5 491.2L628.2 491.2"/>
</g>
<path class="ax" d="M120.0 101.1 V491.2M120.0 491.2 H102.6M120.0 413.2 H102.6M120.0 335.2 H102.6M120.0 257.1 H102.6M120.0 179.1 H102.6M120.0 101.1 H102.6"/>
<text class="tk" text-anchor="middle" transform="translate(78.0 491.2) rotate(-90) scale(0.965 1.025)">0.0</text>
<text class="tk" text-anchor="middle" transform="translate(78.0 413.2) rotate(-90) scale(0.965 1.025)">0.5</text>
<text class="tk" text-anchor="middle" transform="translate(78.0 335.2) rotate(-90) scale(0.965 1.025)">1.0</text>
<text class="tk" text-anchor="middle" transform="translate(78.0 257.1) rotate(-90) scale(0.965 1.025)">1.5</text>
<text class="tk" text-anchor="middle" transform="translate(78.0 179.1) rotate(-90) scale(0.965 1.025)">2.0</text>
<text class="tk" text-anchor="middle" transform="translate(78.0 101.1) rotate(-90) scale(0.965 1.025)">2.5</text>
<path class="ax" d="M139.6 506.8 H628.2M139.6 506.8 V524.4M261.8 506.8 V524.4M383.9 506.8 V524.4M506.0 506.8 V524.4M628.2 506.8 V524.4"/>
<text class="tk" text-anchor="middle" transform="translate(133.6 570.7) scale(1 1.025)">–2</text>
<text class="tk" text-anchor="middle" transform="translate(255.8 570.7) scale(1 1.025)">–1</text>
<text class="tk" text-anchor="middle" transform="translate(383.9 570.7) scale(1 1.025)">0</text>
<text class="tk" text-anchor="middle" transform="translate(506.0 570.7) scale(1 1.025)">1</text>
<text class="tk" text-anchor="middle" transform="translate(628.2 570.7) scale(1 1.025)">2</text>
<text class="lb" text-anchor="middle" x="390.0" y="612.0">Fisher</text>
<text class="lb" text-anchor="middle" transform="translate(26.4 294.8) rotate(-90)">Density</text>
</g>
<g transform="translate(747.5 2240.2)">
<text class="tt" transform="translate(113.7 25.3) scale(1 1.02)"><tspan class="b">h</tspan> Fisher transformed PT vs MT</text>
<g clip-path="url(#pc)">
<g class="bar" fill="#E95036"><rect x="322.8" y="487.1" width="12.2" height="4.1"/><rect x="383.9" y="488.1" width="12.2" height="3.1"/><rect x="396.1" y="482.3" width="12.2" height="8.9"/><rect x="408.3" y="409.7" width="12.2" height="81.5"/><rect x="420.5" y="462.6" width="12.2" height="28.6"/><rect x="432.8" y="439.9" width="12.2" height="51.3"/><rect x="445.0" y="356.5" width="12.2" height="134.7"/><rect x="457.2" y="267.3" width="12.2" height="223.9"/><rect x="469.4" y="203.6" width="12.2" height="287.6"/><rect x="481.6" y="210.0" width="12.2" height="281.2"/><rect x="493.8" y="225.2" width="12.2" height="266.0"/><rect x="506.0" y="379.5" width="12.2" height="111.7"/><rect x="518.3" y="447.5" width="12.2" height="43.7"/><rect x="530.5" y="484.8" width="12.2" height="6.4"/><rect x="542.7" y="488.7" width="12.2" height="2.5"/><path d="M139.6 491.2 H628.2"/></g>
<path class="cur" d="M139.6 491.2L293.2 491.1L295.2 491.1L297.1 491.0L299.1 491.0L301.1 490.9L303.1 490.7L305.1 490.6L307.1 490.4L309.1 490.2L311.1 489.9L313.1 489.6L315.1 489.3L317.1 489.0L319.1 488.7L321.1 488.5L323.1 488.3L325.1 488.1L327.1 488.1L329.1 488.1L331.1 488.2L333.0 488.4L335.0 488.6L337.0 488.9L339.0 489.2L341.0 489.5L343.0 489.8L345.0 490.0L347.0 490.3L349.0 490.5L351.0 490.6L353.0 490.8L355.0 490.8L361.0 490.8L363.0 490.7L365.0 490.6L366.9 490.4L368.9 490.1L370.9 489.8L372.9 489.4L374.9 488.8L376.9 488.1L378.9 487.3L380.9 486.3L382.9 485.2L384.9 483.8L386.9 482.3L388.9 480.5L390.9 478.6L392.9 476.4L394.9 474.1L396.9 471.6L398.9 469.0L400.9 466.3L402.8 463.5L404.8 460.8L406.8 458.0L408.8 455.4L410.8 452.8L412.8 450.2L414.8 447.8L416.8 445.5L418.8 443.2L420.8 440.8L422.8 438.4L424.8 435.8L426.8 432.9L428.8 429.7L430.8 426.1L432.8 421.8L434.8 417.0L436.7 411.5L438.7 405.2L440.7 398.2L442.7 390.5L444.7 382.1L446.7 373.0L448.7 363.4L450.7 353.3L452.7 342.9L454.7 332.2L456.7 321.6L458.7 311.0L460.7 300.7L462.7 290.7L464.7 281.2L466.7 272.4L468.7 264.2L470.7 257.0L472.6 250.6L474.6 245.2L476.6 241.0L478.6 237.8L480.6 235.8L482.6 235.0L484.6 235.4L486.6 237.1L488.6 240.0L490.6 244.1L492.6 249.4L494.6 255.8L496.6 263.3L498.6 271.8L500.6 281.1L502.6 291.2L504.6 302.0L506.5 313.2L508.5 324.8L510.5 336.7L512.5 348.6L514.5 360.4L516.5 372.0L518.5 383.4L520.5 394.2L522.5 404.6L524.5 414.4L526.5 423.6L528.5 432.1L530.5 439.8L532.5 446.9L534.5 453.3L536.5 458.9L538.5 463.9L540.5 468.3L542.4 472.2L544.4 475.5L546.4 478.3L548.4 480.7L550.4 482.7L552.4 484.4L554.4 485.7L556.4 486.9L558.4 487.8L560.4 488.5L562.4 489.1L564.4 489.6L566.4 490.0L568.4 490.3L570.4 490.5L572.4 490.7L574.4 490.8L576.3 490.9L578.3 491.0L580.3 491.0L584.3 491.1L590.3 491.2L628.2 491.2"/>
</g>
<path class="ax" d="M120.0 101.1 V491.2M120.0 491.2 H102.6M120.0 413.2 H102.6M120.0 335.2 H102.6M120.0 257.1 H102.6M120.0 179.1 H102.6M120.0 101.1 H102.6"/>
<text class="tk" text-anchor="middle" transform="translate(78.0 491.2) rotate(-90) scale(0.965 1.025)">0.0</text>
<text class="tk" text-anchor="middle" transform="translate(78.0 413.2) rotate(-90) scale(0.965 1.025)">0.5</text>
<text class="tk" text-anchor="middle" transform="translate(78.0 335.2) rotate(-90) scale(0.965 1.025)">1.0</text>
<text class="tk" text-anchor="middle" transform="translate(78.0 257.1) rotate(-90) scale(0.965 1.025)">1.5</text>
<text class="tk" text-anchor="middle" transform="translate(78.0 179.1) rotate(-90) scale(0.965 1.025)">2.0</text>
<text class="tk" text-anchor="middle" transform="translate(78.0 101.1) rotate(-90) scale(0.965 1.025)">2.5</text>
<path class="ax" d="M139.6 506.8 H628.2M139.6 506.8 V524.4M261.8 506.8 V524.4M383.9 506.8 V524.4M506.0 506.8 V524.4M628.2 506.8 V524.4"/>
<text class="tk" text-anchor="middle" transform="translate(133.6 570.7) scale(1 1.025)">–2</text>
<text class="tk" text-anchor="middle" transform="translate(255.8 570.7) scale(1 1.025)">–1</text>
<text class="tk" text-anchor="middle" transform="translate(383.9 570.7) scale(1 1.025)">0</text>
<text class="tk" text-anchor="middle" transform="translate(506.0 570.7) scale(1 1.025)">1</text>
<text class="tk" text-anchor="middle" transform="translate(628.2 570.7) scale(1 1.025)">2</text>
<text class="lb" text-anchor="middle" x="390.0" y="612.0">Fisher</text>
<text class="lb" text-anchor="middle" transform="translate(26.4 294.8) rotate(-90)">Density</text>
</g>
</svg></body></html>
